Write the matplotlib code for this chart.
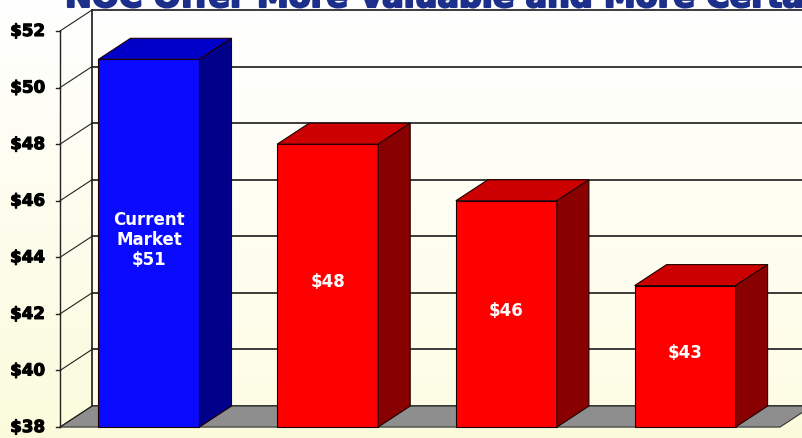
import matplotlib.pyplot as plt
import numpy as np
from matplotlib.patches import Polygon
from matplotlib.colors import LinearSegmentedColormap
import matplotlib.patheffects as pe

# Offer values per scenario
labels = ["Current\nMarket\n$51", "$48", "$46", "$43"]
values = [51, 48, 46, 43]
front_colors = ["#0a0aff", "#ff0000", "#ff0000", "#ff0000"]
top_colors = ["#0000c8", "#cc0000", "#cc0000", "#cc0000"]
side_colors = ["#00008a", "#880000", "#880000", "#880000"]
yticks = [38, 40, 42, 44, 46, 48, 50, 52]
title = "NOC Offer More Valuable and More Certain"

ymin, ymax = 38, 52
W, H = 803, 439
px_per_dollar = 28.29
px_per_cat = 178.7
x0_px = 149
y52_px = 32

fig = plt.figure(figsize=(W / 100, H / 100), dpi=100)
ax = fig.add_axes([0, 0, 1, 1])
ax.set_xlim(-x0_px / px_per_cat, (W - x0_px) / px_per_cat)
ax.set_ylim(ymax - (H - y52_px) / px_per_dollar, ymax + y52_px / px_per_dollar)
ax.axis("off")

# 3D depth offset in data units
ddx = 32 / px_per_cat
ddy = 21 / px_per_dollar
bw = 101 / px_per_cat
axis_x = (60 - x0_px) / px_per_cat
right_x = (780 - x0_px) / px_per_cat

x_lo, x_hi = ax.get_xlim()
y_lo, y_hi = ax.get_ylim()

# background gradient: white at top, pale yellow at bottom
bg = LinearSegmentedColormap.from_list("bg", ["#fbfbdc", "#ffffff"])
grad = np.linspace(0, 1, 256).reshape(-1, 1)
ax.imshow(grad, cmap=bg, origin="lower", aspect="auto",
          extent=[x_lo, x_hi, y_lo, y_hi], zorder=0)

# back wall
wall = LinearSegmentedColormap.from_list("wall", ["#fdfde6", "#ffffff"])
ax.imshow(grad, cmap=wall, origin="lower", aspect="auto",
          extent=[axis_x + ddx, right_x + ddx + 0.5, ymin + ddy, ymax + ddy],
          zorder=0.5)

# gridlines on the back wall
for v in yticks:
    ax.plot([axis_x + ddx, x_hi], [v + ddy, v + ddy], color="#1a1a1a", lw=1.2, zorder=1)
ax.plot([axis_x + ddx, axis_x + ddx], [ymin + ddy, ymax + ddy], color="#1a1a1a", lw=1.2, zorder=1)

# floor
floor = Polygon([(axis_x, ymin), (right_x, ymin), (right_x + ddx, ymin + ddy),
                 (axis_x + ddx, ymin + ddy)], closed=True,
                facecolor="#8e8e8e", edgecolor="#333333", lw=0.8, zorder=1.5)
ax.add_patch(floor)

heavy = [pe.withStroke(linewidth=0.8, foreground="#000000")]

# left axis with ticks and depth connectors
ax.plot([axis_x, axis_x], [ymin, ymax], color="#222222", lw=1.0, zorder=2)
tick_len = 4 / px_per_cat
for v in yticks:
    ax.plot([axis_x - tick_len, axis_x], [v, v], color="#222222", lw=1.0, zorder=2)
    ax.plot([axis_x, axis_x + ddx], [v, v + ddy], color="#222222", lw=0.8, zorder=2)
    ax.text(axis_x - 15 / px_per_cat, v, f"${v}", ha="right", va="center",
            fontsize=12, fontweight="bold", color="#000000",
            path_effects=heavy, zorder=3)

# 3D bars
for i, (val, lab) in enumerate(zip(values, labels)):
    xl, xr = i - bw / 2, i + bw / 2
    front = Polygon([(xl, ymin), (xr, ymin), (xr, val), (xl, val)],
                    facecolor=front_colors[i], edgecolor="#200000", lw=0.8, zorder=4)
    top = Polygon([(xl, val), (xr, val), (xr + ddx, val + ddy), (xl + ddx, val + ddy)],
                  facecolor=top_colors[i], edgecolor="#200000", lw=0.8, zorder=4)
    side = Polygon([(xr, ymin), (xr + ddx, ymin + ddy), (xr + ddx, val + ddy), (xr, val)],
                   facecolor=side_colors[i], edgecolor="#200000", lw=0.8, zorder=4)
    for p in (front, top, side):
        ax.add_patch(p)
    ax.text(i, (ymin + val) / 2 + 0.15, lab, ha="center", va="center",
            fontsize=12, fontweight="bold", color="white", linespacing=1.15,
            zorder=5)

fig.text(65 / W, 1 - 8 / H, title, ha="left", va="baseline",
         fontsize=23, fontweight="bold", color="#1c2f8a",
         path_effects=[pe.withStroke(linewidth=1.5, foreground="#1c2f8a")], zorder=6)

fig.savefig("out.png", dpi=100)
